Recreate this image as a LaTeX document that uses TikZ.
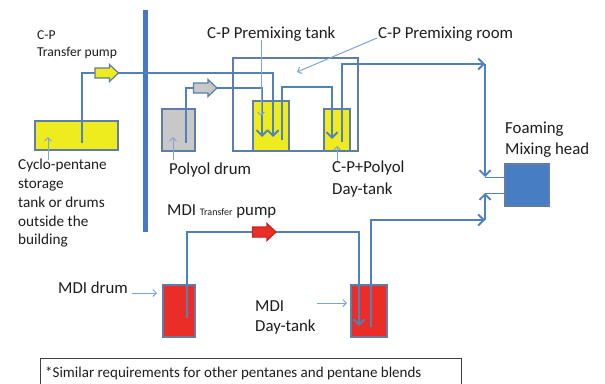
\documentclass[tikz,border=0pt]{standalone}
\usepackage{fontspec}
\setmainfont{Carlito}
\usetikzlibrary{arrows.meta}
\definecolor{pipecol}{RGB}{79,129,189}
\definecolor{ptrcol}{RGB}{125,165,215}
\definecolor{edgecol}{RGB}{95,125,165}
\definecolor{yel}{RGB}{238,236,30}
\definecolor{gry}{RGB}{200,200,200}
\definecolor{redc}{RGB}{235,45,40}
\definecolor{headc}{RGB}{70,125,195}
\definecolor{barc}{RGB}{70,120,200}
\definecolor{txtc}{RGB}{30,30,30}
\tikzset{
  pipe/.style={draw=pipecol,line width=1.9pt},
  tip/.style={-{Straight Barb[length=5.5pt,width=11pt,line width=1.9pt]}},
  thinpipe/.style={draw=pipecol,line width=1pt},
  pointer/.style={draw=ptrcol,line width=1pt,-{Straight Barb[length=3.5pt,width=7pt]}},
  vessel/.style={draw=edgecol,line width=1.2pt,inner sep=0pt,rectangle},
  pumpstyle/.style={draw=edgecol,line width=1.2pt,line join=miter},
  lbl/.style={anchor=west,inner sep=0pt,text=txtc,font=\fontsize{16.8}{19}\selectfont},
  smalllbl/.style={anchor=west,inner sep=0pt,text=txtc,font=\fontsize{13.6}{16}\selectfont},
}
\newcommand\pumpglyph[2]{%
  \draw[pumpstyle,#2,shift={(#1)}] (-11.5,-5) -- (3,-5) -- (3,-8.5) -- (12,0) -- (3,8.5) -- (3,5) -- (-11.5,5) -- cycle;}
\begin{document}
\begin{tikzpicture}[x=1pt,y=-1pt]
\useasboundingbox (0,0) rectangle (605,383);
\fill[white] (0,0) rectangle (605,383);

% wall bar
\fill[barc] (143,10) rectangle (148,232);

% room
\node[draw=edgecol,line width=1.2pt,inner sep=0pt,minimum width=125pt,minimum height=93pt] (room) at (295.5,104.5) {};

% vessels
\node[vessel,fill=yel,minimum width=83pt,minimum height=29pt] (cpst) at (76.5,135.5) {};
\node[vessel,fill=gry,minimum width=33pt,minimum height=42pt] (poldrum) at (178.5,130) {};
\node[vessel,fill=yel,minimum width=36pt,minimum height=50pt] (premix) at (271,126) {};
\node[vessel,fill=yel,minimum width=26pt,minimum height=42pt] (daytank) at (337,130) {};
\node[vessel,fill=headc,minimum width=44pt,minimum height=42pt] (head) at (527,185) {};
\node[vessel,fill=redc,minimum width=32pt,minimum height=52pt] (mdidrum) at (179,311) {};
\node[vessel,fill=redc,minimum width=36pt,minimum height=52pt] (mditank) at (369,311) {};

% pipe end coordinates
\coordinate (cpA) at (82,143);
\coordinate (cpin) at (273,137);
\coordinate (polA) at (186,143);
\coordinate (polin) at (262,137);
\coordinate (pmA) at (282,140);
\coordinate (pmturn) at (332,87);
\coordinate (dtin) at (332,139);
\coordinate (dtA) at (342,142);
\coordinate (hc1) at (485,64);
\coordinate (hc1b) at (485,177);
\coordinate (mdA) at (187,318);
\coordinate (mdin) at (359,326);
\coordinate (mtA) at (371,327);
\coordinate (hc2) at (485,220);
\coordinate (hc3) at (485,193);

% pump positions
\coordinate (cppump) at (106.5,73);
\coordinate (polpump) at (205,88);
\coordinate (mdipump) at (264,232);

% pipes
\draw[pipe,tip] (cpA) |- (cppump) -| (cpin);
\draw[pipe,tip] (polA) |- (polpump) -| (polin);
\draw[pipe,tip] (pmA) |- (pmturn) -- (dtin);
\draw[pipe,tip] (dtA) |- (hc1);
\draw[pipe,tip] (hc1) -- (hc1b);
\draw[thinpipe] (hc1b) -- (hc1b -| head.west);
\draw[pipe,tip] (mdA) |- (mdipump) -| (mdin);
\draw[pipe,tip] (mtA) |- (hc2);
\draw[pipe,tip] (hc2) -- (hc3);
\draw[thinpipe] (hc3) -- (hc3 -| head.west);

% pumps
\pumpglyph{cppump}{fill=yel}
\pumpglyph{polpump}{fill=gry}
\pumpglyph{mdipump}{fill=redc,draw=redc!85!black}

% labels
\node[smalllbl] (lcp) at (37,35) {C-P};
\node[smalllbl] (lcptp) at (37,53) {Transfer pump};
\node[lbl] (lpmt) at (207,34) {C-P Premixing tank};
\node[lbl] (lpmr) at (378,34) {C-P Premixing room};
\node[lbl] (lpol) at (169,170) {Polyol drum};
\node[lbl] (ldt1) at (332,168) {C-P+Polyol};
\node[lbl] (ldt2) at (332,190) {Day-tank};
\node[lbl] (lfo1) at (505,129) {Foaming};
\node[lbl] (lfo2) at (505,150) {Mixing head};
\node[anchor=north west,inner sep=0pt,text=txtc,font=\fontsize{15.2}{18.8}\selectfont,align=left] (lcyc) at (18,159)
  {Cyclo-pentane\\storage\\tank or drums\\outside the\\building};
\node[lbl] (lmdid) at (58,288) {MDI drum};
\node[lbl] (lmdit) at (167,211) {MDI {\fontsize{10}{12}\selectfont Transfer} pump};
\node[lbl] (lmdt1) at (255,306) {MDI};
\node[lbl] (lmdt2) at (255,327) {Day-tank};

% pointers
\coordinate (p1a) at (48,160); \coordinate (p1b) at (48,137);
\draw[pointer] (p1a) -- (p1b);
\coordinate (p2a) at (173,160); \coordinate (p2b) at (173,137);
\draw[pointer] (p2a) -- (p2b);
\coordinate (p3a) at (261,40); \coordinate (p3b) at (261,116);
\draw[pointer] (p3a) -- (p3b);
\coordinate (p4a) at (337,161); \coordinate (p4b) at (337,146);
\draw[pointer] (p4a) -- (p4b);
\coordinate (p5a) at (377,38); \coordinate (p5b) at (297,72);
\draw[pointer] (p5a) -- (p5b);
\coordinate (p6a) at (132,293); \coordinate (p6b) at (157,293);
\draw[pointer] (p6a) -- (p6b);
\coordinate (p7a) at (317,303); \coordinate (p7b) at (347,303);
\draw[pointer] (p7a) -- (p7b);

% footnote
\draw[draw=black!75,line width=0.8pt] (40,358) rectangle (461,395);
\node[anchor=west,inner sep=0pt,text=txtc,font=\fontsize{15}{17}\selectfont] (fn) at (45,373)
  {*Similar requirements for other pentanes and pentane blends};
\end{tikzpicture}
\end{document}
